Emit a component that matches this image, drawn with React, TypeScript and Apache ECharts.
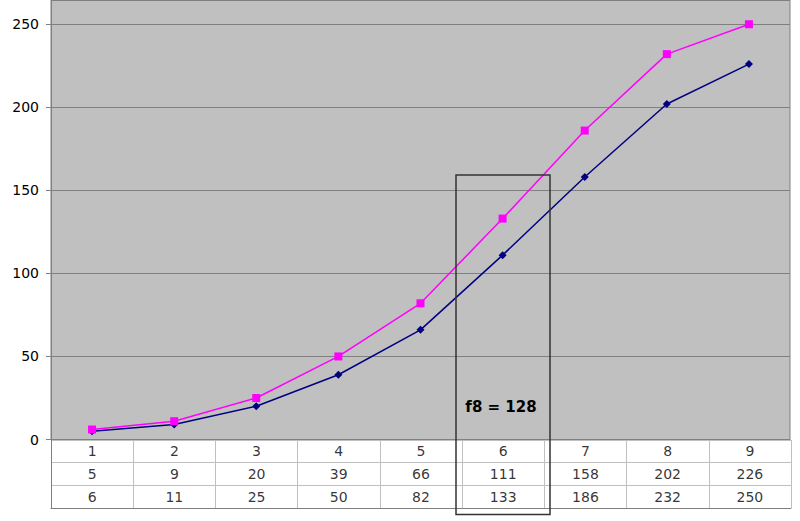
import React, { useEffect, useRef } from "react";
import * as echarts from "echarts";

const categories = ["1", "2", "3", "4", "5", "6", "7", "8", "9"];
const series1 = [5, 9, 20, 39, 66, 111, 158, 202, 226];
const series2 = [6, 11, 25, 50, 82, 133, 186, 232, 250];
const rowNames = ["cat", "s1", "s2"];
const annotationText = "f8 = 128";

const FONT = "DejaVu Sans";

export default function App() {
  const ref = useRef<HTMLDivElement>(null);
  useEffect(() => {
    if (!ref.current) return;
    const chart = echarts.init(ref.current, null, { renderer: "svg" });

    const tableData: any[] = [];
    const rows = [categories, series1.map(String), series2.map(String)];
    rows.forEach((row, r) => {
      row.forEach((v, c) => {
        tableData.push({ value: [c, r], label: { formatter: v } });
      });
    });

    chart.setOption({
      animation: false,
      backgroundColor: "#ffffff",
      textStyle: { fontFamily: FONT },
      grid: [
        {
          left: 51,
          right: 10,
          top: 0,
          height: 439.5,
          show: true,
          backgroundColor: "#c0c0c0",
          borderColor: "#808080",
          borderWidth: 1,
        },
        {
          left: 51,
          right: 9,
          top: 440,
          height: 68,
          show: false,
        },
      ],
      xAxis: [
        {
          type: "category",
          gridIndex: 0,
          data: categories,
          boundaryGap: true,
          axisLabel: { show: false },
          axisTick: { show: false },
          axisLine: { show: true, lineStyle: { color: "#808080", width: 1 } },
          splitLine: { show: false },
        },
        {
          type: "category",
          gridIndex: 1,
          data: categories,
          boundaryGap: true,
          axisLabel: { show: false },
          axisTick: { show: false },
          axisLine: { show: true, lineStyle: { color: "#808080", width: 1 } },
          splitLine: { show: true, lineStyle: { color: "#c0c0c0", width: 1 } },
        },
      ],
      yAxis: [
        {
          type: "value",
          gridIndex: 0,
          min: 0,
          max: 264.6,
          interval: 50,
          axisLine: { show: true, lineStyle: { color: "#808080" } },
          axisTick: { show: true, length: 5, lineStyle: { color: "#808080" } },
          axisLabel: {
            color: "#000",
            fontSize: 14,
            fontFamily: FONT,
            margin: 12,
            showMaxLabel: false,
          },
          splitLine: { show: true, lineStyle: { color: "#808080", width: 1 } },
        },
        {
          type: "category",
          gridIndex: 1,
          data: rowNames,
          inverse: true,
          boundaryGap: true,
          axisLabel: { show: false },
          axisTick: { show: false },
          axisLine: { show: true, lineStyle: { color: "#808080" } },
          splitLine: { show: true, lineStyle: { color: "#c0c0c0", width: 1 } },
        },
      ],
      series: [
        {
          type: "line",
          xAxisIndex: 0,
          yAxisIndex: 0,
          data: series1,
          symbol: "diamond",
          symbolSize: 8,
          showAllSymbol: true,
          lineStyle: { color: "#000080", width: 1.5 },
          itemStyle: { color: "#000080" },
        },
        {
          type: "line",
          xAxisIndex: 0,
          yAxisIndex: 0,
          data: series2,
          symbol: "rect",
          symbolSize: 8,
          showAllSymbol: true,
          lineStyle: { color: "#ff00ff", width: 1.5 },
          itemStyle: { color: "#ff00ff" },
        },
        {
          type: "scatter",
          xAxisIndex: 1,
          yAxisIndex: 1,
          symbolSize: 0,
          data: tableData,
          label: {
            show: true,
            position: "inside",
            color: "#000",
            fontSize: 14,
            fontFamily: FONT,
          },
        },
      ],
      graphic: [
        {
          type: "rect",
          shape: { x: 456, y: 175, width: 94, height: 339.5 },
          style: { fill: "none", stroke: "#333333", lineWidth: 1.5 },
          z: 100,
        },
        {
          type: "text",
          x: 501,
          y: 407,
          style: {
            text: annotationText,
            fill: "#000",
            font: `bold 15px "${FONT}"`,
            textAlign: "center",
            textVerticalAlign: "middle",
          },
          z: 100,
        },
      ],
    });
    return () => chart.dispose();
  }, []);
  return (
    <div
      ref={ref}
      style={{ position: "fixed", left: 0, top: 0, width: 800, height: 521 }}
    />
  );
}
